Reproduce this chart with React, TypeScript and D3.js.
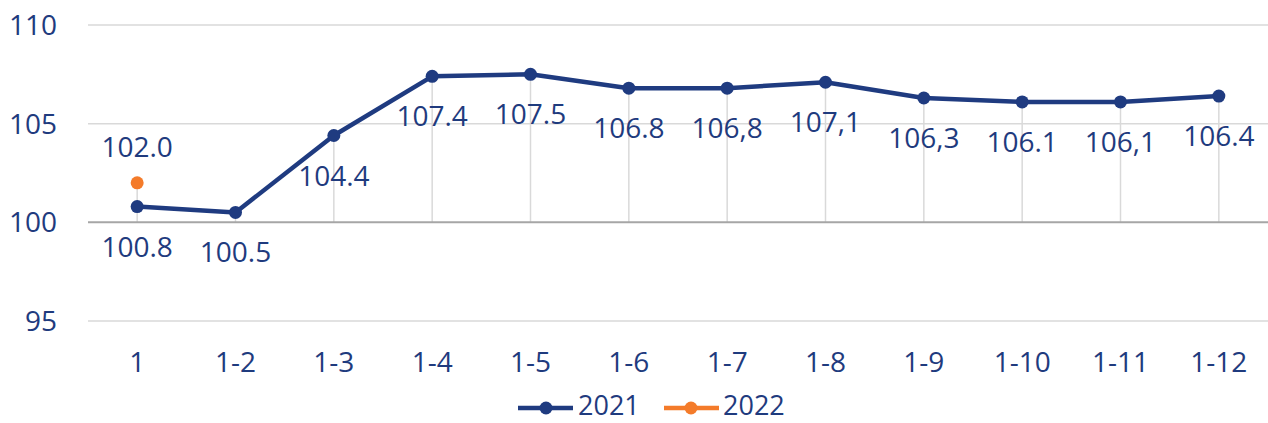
import React from 'react';
import * as d3 from 'd3';

const width = 1268;
const height = 423;
const margin = { top: 25, right: 0, bottom: 103, left: 88 };

const categories = ['1', '1-2', '1-3', '1-4', '1-5', '1-6', '1-7', '1-8', '1-9', '1-10', '1-11', '1-12'];
const values2021 = [100.8, 100.5, 104.4, 107.4, 107.5, 106.8, 106.8, 107.1, 106.3, 106.1, 106.1, 106.4];
const labels2021 = ['100.8', '100.5', '104.4', '107.4', '107.5', '106.8', '106,8', '107,1', '106,3', '106.1', '106,1', '106.4'];
const values2022 = [102.0];
const labels2022 = ['102.0'];
const yTicks = [95, 100, 105, 110];

const navy = '#1f3b80';
const orange = '#f47b2a';
const textColor = '#1f3b7e';
const font = '"Open Sans", sans-serif';

export default function App() {
  const x = d3.scaleBand()
    .domain(categories)
    .range([margin.left, width - margin.right]);
  const cx = (c: string) => (x(c) as number) + x.bandwidth() / 2;

  const y = d3.scaleLinear()
    .domain([95, 110])
    .range([height - margin.bottom + 1, margin.top]);

  const line = d3.line<number>()
    .x((_, i) => cx(categories[i]))
    .y(d => y(d));

  // drop lines go from the higher of the two points down to the axis
  const dropTop = categories.map((c, i) => Math.max(values2021[i], values2022[i] ?? -Infinity));

  return (
    <svg width={width} height={height} style={{ display: 'block', position: 'absolute', left: 0, top: 0 }}>
      {yTicks.filter(t => t !== 100).map(t => (
        <line key={t} x1={margin.left} x2={width} y1={y(t)} y2={y(t)} stroke="#d9d9d9" strokeWidth={1.5} />
      ))}
      {categories.map((c, i) => (
        <line key={c} x1={cx(c)} x2={cx(c)} y1={y(dropTop[i])} y2={y(100)} stroke="#d9d9d9" strokeWidth={1.5} />
      ))}
      <line x1={margin.left} x2={width} y1={y(100)} y2={y(100)} stroke="#a6a6a6" strokeWidth={2} />
      {yTicks.map(t => (
        <text key={t} x={57} y={y(t) + 10} textAnchor="end" fontFamily={font} fontSize={28} fill={textColor}>{t}</text>
      ))}
      {categories.map(c => (
        <text key={c} x={cx(c)} y={372} textAnchor="middle" fontFamily={font} fontSize={28} fill={textColor}>{c}</text>
      ))}
      <path d={line(values2021) ?? ''} fill="none" stroke={navy} strokeWidth={4.5} strokeLinejoin="round" />
      {values2021.map((v, i) => (
        <circle key={i} cx={cx(categories[i])} cy={y(v)} r={6.5} fill={navy} />
      ))}
      {values2021.map((v, i) => (
        <text key={i} x={cx(categories[i])} y={y(v) + 50} textAnchor="middle" fontFamily={font} fontSize={28} fill={textColor}>{labels2021[i]}</text>
      ))}
      {values2022.map((v, i) => (
        <g key={i}>
          <circle cx={cx(categories[i])} cy={y(v)} r={6.5} fill={orange} />
          <text x={cx(categories[i])} y={y(v) - 26} textAnchor="middle" fontFamily={font} fontSize={28} fill={textColor}>{labels2022[i]}</text>
        </g>
      ))}
      <g>
        <line x1={518} x2={573} y1={408} y2={408} stroke={navy} strokeWidth={4.5} />
        <circle cx={546} cy={408} r={6.5} fill={navy} />
        <text x={578} y={415} fontFamily={font} fontSize={27} fill={textColor}>2021</text>
        <line x1={664} x2={719} y1={408} y2={408} stroke={orange} strokeWidth={4.5} />
        <circle cx={691} cy={408} r={6.5} fill={orange} />
        <text x={723} y={415} fontFamily={font} fontSize={27} fill={textColor}>2022</text>
      </g>
    </svg>
  );
}
